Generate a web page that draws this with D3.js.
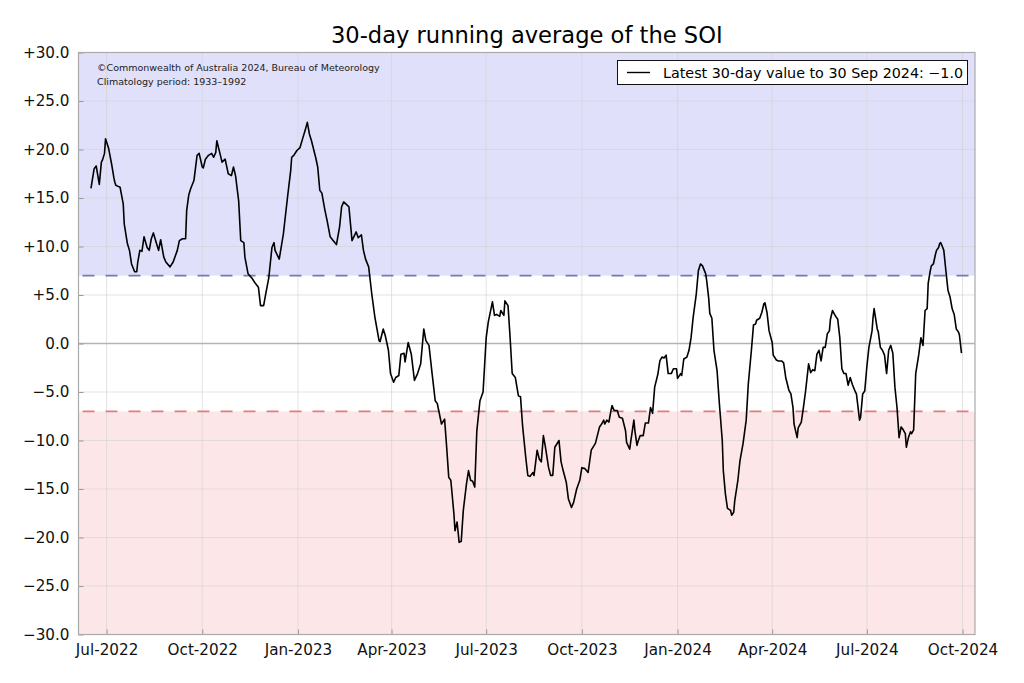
<!DOCTYPE html>
<html>
<head>
<meta charset="utf-8">
<script src="https://cdn.jsdelivr.net/npm/d3@7/dist/d3.min.js"></script>
<style>
  html, body { margin: 0; padding: 0; background: #ffffff; }
  svg { display: block; font-family: "DejaVu Sans", sans-serif; }
</style>
</head>
<body>
<svg id="chart" width="1024" height="683"></svg>
<script>
// ---------- DATA ----------
const dates = [
"2022-06-16","2022-06-19","2022-06-21","2022-06-24","2022-06-26","2022-06-27","2022-06-29","2022-06-30",
"2022-07-03","2022-07-06","2022-07-08","2022-07-09","2022-07-10","2022-07-14","2022-07-17","2022-07-18",
"2022-07-21","2022-07-23","2022-07-25","2022-07-28","2022-07-30","2022-07-31","2022-08-02","2022-08-04",
"2022-08-06","2022-08-09","2022-08-11","2022-08-13","2022-08-15","2022-08-18","2022-08-20","2022-08-22",
"2022-08-25","2022-08-27","2022-08-31","2022-09-03","2022-09-07","2022-09-09","2022-09-12","2022-09-15",
"2022-09-16","2022-09-18","2022-09-20","2022-09-23","2022-09-26","2022-09-28","2022-10-01","2022-10-02",
"2022-10-04","2022-10-07","2022-10-10","2022-10-12","2022-10-14","2022-10-15","2022-10-18","2022-10-20",
"2022-10-23","2022-10-26","2022-10-29","2022-10-31","2022-11-02","2022-11-05","2022-11-07","2022-11-10",
"2022-11-11","2022-11-14","2022-11-18","2022-11-21","2022-11-24","2022-11-26","2022-11-29","2022-12-01",
"2022-12-04","2022-12-07","2022-12-09","2022-12-10","2022-12-14","2022-12-18","2022-12-22","2022-12-25",
"2022-12-26","2022-12-28","2022-12-31","2023-01-03","2023-01-06","2023-01-08","2023-01-10","2023-01-12",
"2023-01-14","2023-01-18","2023-01-20","2023-01-22","2023-01-24","2023-01-27","2023-01-29","2023-02-01",
"2023-02-04","2023-02-07","2023-02-10","2023-02-12","2023-02-14","2023-02-17","2023-02-19","2023-02-22",
"2023-02-26","2023-02-28","2023-03-03","2023-03-05","2023-03-07","2023-03-10","2023-03-13","2023-03-16",
"2023-03-20","2023-03-21","2023-03-24","2023-03-26","2023-03-29","2023-03-31","2023-04-03","2023-04-05",
"2023-04-08","2023-04-10","2023-04-13","2023-04-14","2023-04-17","2023-04-20","2023-04-23","2023-04-26",
"2023-04-29","2023-05-02","2023-05-04","2023-05-07","2023-05-10","2023-05-13","2023-05-15","2023-05-19",
"2023-05-22","2023-05-24","2023-05-26","2023-05-28","2023-05-31","2023-06-01","2023-06-03","2023-06-05",
"2023-06-07","2023-06-09","2023-06-12","2023-06-14","2023-06-16","2023-06-18","2023-06-20","2023-06-22",
"2023-06-25","2023-06-28","2023-07-01","2023-07-03","2023-07-07","2023-07-09","2023-07-11","2023-07-14",
"2023-07-15","2023-07-18","2023-07-19","2023-07-22","2023-07-24","2023-07-26","2023-07-29","2023-08-01",
"2023-08-03","2023-08-05","2023-08-08","2023-08-10","2023-08-12","2023-08-15","2023-08-16","2023-08-19",
"2023-08-21","2023-08-23","2023-08-25","2023-08-27","2023-08-30","2023-09-01","2023-09-03","2023-09-05",
"2023-09-09","2023-09-11","2023-09-13","2023-09-16","2023-09-18","2023-09-21","2023-09-23","2023-09-26",
"2023-09-29","2023-10-01","2023-10-04","2023-10-07","2023-10-10","2023-10-14","2023-10-18","2023-10-20",
"2023-10-22","2023-10-23","2023-10-25","2023-10-27","2023-10-29","2023-10-30","2023-11-01","2023-11-04",
"2023-11-06","2023-11-09","2023-11-12","2023-11-13","2023-11-16","2023-11-17","2023-11-20","2023-11-21",
"2023-11-23","2023-11-24","2023-11-26","2023-11-29","2023-12-01","2023-12-04","2023-12-06","2023-12-08",
"2023-12-10","2023-12-13","2023-12-15","2023-12-17","2023-12-19","2023-12-21","2023-12-23","2023-12-26",
"2023-12-28","2023-12-31","2024-01-01","2024-01-04","2024-01-05","2024-01-07","2024-01-10","2024-01-12",
"2024-01-14","2024-01-16","2024-01-19","2024-01-21","2024-01-23","2024-01-25","2024-01-28","2024-01-29",
"2024-01-31","2024-02-01","2024-02-03","2024-02-05","2024-02-08","2024-02-10","2024-02-13","2024-02-14",
"2024-02-16","2024-02-18","2024-02-21","2024-02-22","2024-02-24","2024-02-25","2024-02-28","2024-03-01",
"2024-03-04","2024-03-07","2024-03-09","2024-03-12","2024-03-14","2024-03-16","2024-03-17","2024-03-20",
"2024-03-22","2024-03-24","2024-03-25","2024-03-27","2024-03-29","2024-04-01","2024-04-02","2024-04-05",
"2024-04-07","2024-04-10","2024-04-12","2024-04-14","2024-04-17","2024-04-19","2024-04-21","2024-04-22",
"2024-04-25","2024-04-26","2024-04-29","2024-05-01","2024-05-03","2024-05-06","2024-05-08","2024-05-10",
"2024-05-12","2024-05-14","2024-05-16","2024-05-18","2024-05-20","2024-05-22","2024-05-24","2024-05-26",
"2024-05-27","2024-05-29","2024-06-01","2024-06-03","2024-06-05","2024-06-07","2024-06-09","2024-06-11",
"2024-06-13","2024-06-15","2024-06-17","2024-06-20","2024-06-21","2024-06-24","2024-06-25","2024-06-27",
"2024-06-29","2024-07-01","2024-07-03","2024-07-06","2024-07-07","2024-07-08","2024-07-11","2024-07-12",
"2024-07-14","2024-07-16","2024-07-18","2024-07-20","2024-07-22","2024-07-24","2024-07-26","2024-07-28",
"2024-07-30","2024-08-01","2024-08-03","2024-08-05","2024-08-07","2024-08-08","2024-08-10","2024-08-12",
"2024-08-13","2024-08-15","2024-08-17","2024-08-20","2024-08-22","2024-08-24","2024-08-26","2024-08-28",
"2024-08-29","2024-08-31","2024-09-01","2024-09-03","2024-09-05","2024-09-06","2024-09-08","2024-09-09",
"2024-09-10","2024-09-12","2024-09-13","2024-09-15","2024-09-17","2024-09-19","2024-09-21","2024-09-23",
"2024-09-25","2024-09-27","2024-09-28","2024-09-30"
];
const soi = [
16.0,18.0,18.3,16.4,18.7,18.9,19.6,21.1,
20.1,18.4,17.1,16.6,16.3,16.1,14.4,12.3,
10.3,9.6,8.2,7.4,7.4,8.4,9.6,9.5,
11.0,9.9,9.6,10.8,11.4,10.3,9.6,10.7,
8.9,8.4,7.9,8.4,9.6,10.6,10.8,10.8,
13.7,15.3,16.0,16.8,19.4,19.6,18.2,18.1,
19.0,19.4,19.6,19.2,19.7,20.9,19.6,18.7,
19.0,17.5,17.3,18.2,17.3,14.7,10.6,10.4,
8.9,7.2,6.7,6.2,5.8,3.9,3.9,5.1,
6.8,9.9,10.4,9.6,8.7,11.3,15.1,17.8,
19.2,19.4,19.9,20.2,21.3,22.0,22.8,21.6,
20.9,19.2,18.2,15.8,15.5,13.7,12.7,11.0,
10.6,10.2,12.0,14.1,14.6,14.3,14.1,10.6,
11.5,10.9,11.2,9.6,8.7,7.9,5.1,2.7,
0.3,0.2,1.5,0.8,-0.7,-3.1,-4.0,-3.5,
-3.3,-1.1,-1.0,-1.9,0.1,-1.1,-3.8,-3.1,
-2.1,1.5,0.3,-0.2,-3.1,-5.9,-6.2,-8.3,
-7.8,-10.7,-13.8,-14.1,-17.6,-19.3,-18.4,-20.5,
-20.4,-17.2,-14.5,-13.1,-14.1,-14.2,-14.8,-9.0,
-5.9,-5.0,0.6,2.2,4.3,2.9,3.0,2.8,
3.4,2.9,4.4,3.9,0.6,-3.1,-3.5,-5.4,
-5.5,-8.5,-11.7,-13.6,-13.7,-13.3,-13.6,-11.0,
-11.9,-12.2,-9.5,-10.7,-12.8,-13.6,-13.6,-10.7,
-10.0,-12.2,-13.1,-14.3,-16.0,-16.9,-16.4,-15.0,
-14.1,-12.8,-12.9,-13.3,-11.0,-10.3,-8.6,-8.3,
-7.9,-8.3,-7.9,-8.1,-6.9,-6.4,-6.9,-6.9,
-7.6,-7.7,-9.0,-10.2,-10.9,-10.1,-7.9,-9.0,
-10.5,-10.1,-9.5,-9.5,-8.2,-8.2,-6.6,-7.2,
-4.5,-3.2,-1.8,-1.4,-1.5,-1.2,-3.1,-3.1,
-2.6,-2.6,-3.6,-3.1,-3.3,-1.6,-1.4,-0.7,
0.6,2.7,5.1,7.5,8.2,8.0,7.2,6.5,
4.6,3.1,2.6,-0.7,-2.8,-5.9,-10.0,-13.1,
-15.5,-17.0,-17.2,-17.7,-17.4,-16.2,-14.1,-12.1,
-10.3,-7.9,-4.2,-0.7,1.9,2.0,2.4,2.6,
3.2,4.1,4.2,3.2,1.3,0.1,-1.2,-1.7,
-1.8,-1.8,-2.0,-3.5,-4.8,-5.2,-6.6,-8.3,
-9.7,-8.7,-8.1,-6.6,-5.0,-2.1,-3.0,-2.7,
-2.8,-1.1,-0.7,-1.8,-0.4,-0.4,1.0,1.3,
2.5,3.4,2.8,2.5,0.6,-2.6,-3.1,-3.1,
-4.3,-3.5,-4.2,-5.0,-5.2,-7.9,-7.6,-5.2,
-4.9,-2.4,-0.4,1.3,2.7,3.6,1.5,1.2,
-0.4,-0.7,-1.2,-3.1,-0.7,-0.2,-1.0,-4.5,
-6.6,-9.7,-8.6,-8.9,-9.3,-10.7,-9.7,-9.1,
-9.3,-8.9,-3.1,-1.1,0.6,-0.2,3.4,3.6,
6.2,7.5,8.0,8.2,9.2,9.6,9.9,10.3,
10.4,9.9,9.6,7.5,5.5,4.8,3.6,3.0,
1.5,1.2,0.9,-1.0
];
const xTickDates = ["2022-07-01","2022-10-01","2023-01-01","2023-04-01","2023-07-01","2023-10-01","2024-01-01","2024-04-01","2024-07-01","2024-10-01"];
const yTicks = [-30,-25,-20,-15,-10,-5,0,5,10,15,20,25,30];
const xDomain = ["2022-06-04","2024-10-13"];
const yDomain = [-30, 30];
const thresholds = [7, -7];
const titleText = "30-day running average of the SOI";
const creditLines = ["\u00A9Commonwealth of Australia 2024, Bureau of Meteorology", "Climatology period: 1933\u20131992"];
const legendText = "Latest 30-day value to 30 Sep 2024: \u22121.0";

// ---------- CHART ----------
const parse = d3.utcParse("%Y-%m-%d");
const data = dates.map((d, i) => ({ date: parse(d), value: soi[i] }));

const svg = d3.select("#chart");
const L = 78.5, R = 975, T = 52.5, B = 634.5;

const x = d3.scaleUtc().domain(xDomain.map(parse)).range([L, R]);
const y = d3.scaleLinear().domain(yDomain).range([B, T]);

// background bands
svg.append("rect").attr("x", L).attr("y", y(30)).attr("width", R - L).attr("height", y(thresholds[0]) - y(30)).attr("fill", "#e0e0fb");
svg.append("rect").attr("x", L).attr("y", y(thresholds[1])).attr("width", R - L).attr("height", y(-30) - y(thresholds[1])).attr("fill", "#fde6e8");

// grid
const grid = svg.append("g");
grid.selectAll("line.h").data(yTicks.filter(v => v !== 0 && v !== 30 && v !== -30)).enter().append("line")
  .attr("x1", L).attr("x2", R).attr("y1", d => y(d)).attr("y2", d => y(d))
  .attr("stroke", "#d3d3d3").attr("stroke-width", 0.8).attr("stroke-opacity", 0.8);
grid.selectAll("line.v").data(xTickDates.map(parse)).enter().append("line")
  .attr("x1", d => x(d)).attr("x2", d => x(d)).attr("y1", T).attr("y2", B)
  .attr("stroke", "#d3d3d3").attr("stroke-width", 0.8).attr("stroke-opacity", 0.8);

// zero line
svg.append("line").attr("x1", L).attr("x2", R).attr("y1", y(0)).attr("y2", y(0))
  .attr("stroke", "#b4b4b4").attr("stroke-width", 1.3);

// threshold dashed lines
svg.append("line").attr("x1", L).attr("x2", R).attr("y1", y(thresholds[0])).attr("y2", y(thresholds[0]))
  .attr("stroke", "#7878b4").attr("stroke-width", 1.6).attr("stroke-dasharray", "12,11").attr("stroke-dashoffset", -4);
svg.append("line").attr("x1", L).attr("x2", R).attr("y1", y(thresholds[1])).attr("y2", y(thresholds[1]))
  .attr("stroke", "#e07c7c").attr("stroke-width", 1.6).attr("stroke-dasharray", "12,11").attr("stroke-dashoffset", -4);

// data line
svg.append("path").datum(data)
  .attr("d", d3.line().x(d => x(d.date)).y(d => y(d.value)))
  .attr("fill", "none").attr("stroke", "#000").attr("stroke-width", 1.6).attr("stroke-linejoin", "round");

// axes
const fmtY = v => v > 0 ? "+" + v.toFixed(1) : v < 0 ? "\u2212" + Math.abs(v).toFixed(1) : "0.0";
const yAxis = d3.axisLeft(y).tickValues(yTicks).tickFormat(fmtY).tickSizeInner(-5).tickSizeOuter(0).tickPadding(9);
const gy = svg.append("g").attr("transform", `translate(${L},0)`).call(yAxis);
const xAxis = d3.axisBottom(x).tickValues(xTickDates.map(parse)).tickFormat(d3.utcFormat("%b-%Y")).tickSizeInner(-5).tickSizeOuter(0).tickPadding(10);
const gx = svg.append("g").attr("transform", `translate(0,${B})`).call(xAxis);
[gx, gy].forEach(g => {
  g.select(".domain").remove();
  g.selectAll(".tick line").attr("stroke", "#999");
  g.selectAll(".tick text").attr("fill", "#111").style("font-family", "DejaVu Sans").style("font-size", "15.2px");
});

// frame
svg.append("rect").attr("x", L).attr("y", T).attr("width", R - L).attr("height", B - T)
  .attr("fill", "none").attr("stroke", "#aaaaaa").attr("stroke-width", 1.2);

// title
svg.append("text").attr("x", (L + R) / 2).attr("y", 43).attr("text-anchor", "middle")
  .style("font-size", "22.6px").attr("fill", "#000").text(titleText);

// credit
svg.selectAll("text.credit").data(creditLines).enter().append("text")
  .attr("x", 97).attr("y", (d, i) => 70.5 + i * 14)
  .style("font-size", "9.5px").attr("fill", "#222").text(d => d);

// legend
const lg = svg.append("g");
lg.append("rect").attr("x", 617.5).attr("y", 60.5).attr("width", 350).attr("height", 24)
  .attr("fill", "#fff").attr("stroke", "#111").attr("stroke-width", 1);
lg.append("line").attr("x1", 627).attr("x2", 650).attr("y1", 72.5).attr("y2", 72.5).attr("stroke", "#000").attr("stroke-width", 1.4);
lg.append("text").attr("x", 663).attr("y", 78).style("font-size", "14.3px").attr("fill", "#000").text(legendText);
</script>
</body>
</html>
